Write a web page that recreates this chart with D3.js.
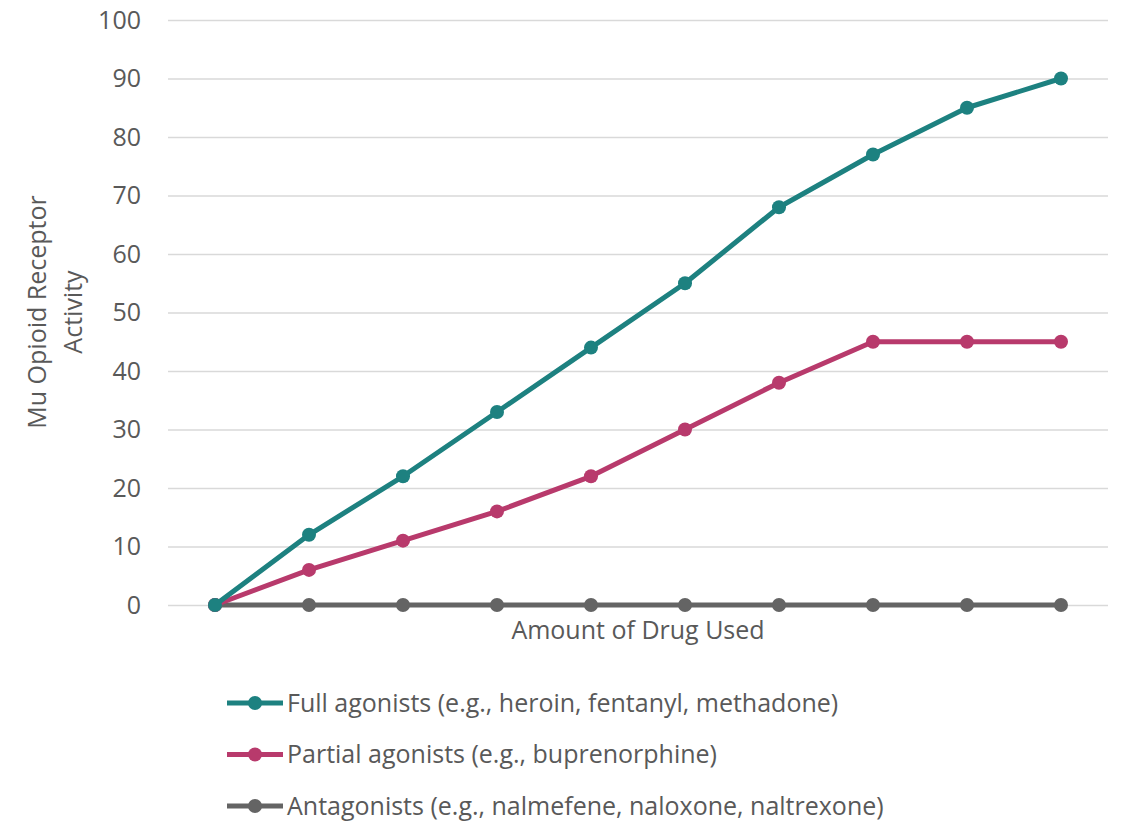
<!DOCTYPE html>
<html>
<head>
<meta charset="utf-8">
<script src="https://cdn.jsdelivr.net/npm/d3@7"></script>
<style>
  body { margin: 0; background: #fff; }
  text { font-family: "Open Sans", "Noto Sans", sans-serif; fill: #595959; }
</style>
</head>
<body>
<div id="chart"></div>
<script>
// data
const categories = [1, 2, 3, 4, 5, 6, 7, 8, 9, 10];
const fullAgonists = [0, 12, 22, 33, 44, 55, 68, 77, 85, 90];
const partialAgonists = [0, 6, 11, 16, 22, 30, 38, 45, 45, 45];
const antagonists = [0, 0, 0, 0, 0, 0, 0, 0, 0, 0];
const seriesNames = [
  "Full agonists (e.g., heroin, fentanyl, methadone)",
  "Partial agonists (e.g., buprenorphine)",
  "Antagonists (e.g., nalmefene, naloxone, naltrexone)"
];
const yTicks = [0, 10, 20, 30, 40, 50, 60, 70, 80, 90, 100];

const series = [
  { name: seriesNames[0], values: fullAgonists, color: "#1d8180" },
  { name: seriesNames[1], values: partialAgonists, color: "#b83a6c" },
  { name: seriesNames[2], values: antagonists, color: "#646464" }
];

const fontSize = "25px";
const W = 1123, H = 822;
const margin = { LEFT: 168, RIGHT: 15, TOP: 20, BOTTOM: 217 };
const w = W - margin.LEFT - margin.RIGHT;
const h = H - margin.TOP - margin.BOTTOM;

const svg = d3.select("#chart").append("svg")
  .attr("width", W).attr("height", H);

const g = svg.append("g")
  .attr("transform", `translate(${margin.LEFT}, ${margin.TOP})`);

const xScale = d3.scalePoint().domain(categories).range([0, w]).padding(0.5);
const yScale = d3.scaleLinear().domain([0, 100]).range([h, 0]);

// gridlines + y labels
const yAxis = d3.axisLeft(yScale).tickValues(yTicks).tickSize(-w).tickPadding(27);
g.append("g").attr("class", "yAxis").call(yAxis)
  .call(s => s.select(".domain").remove())
  .call(s => s.selectAll("line").attr("stroke", "#d9d9d9").attr("stroke-width", 1.3))
  .call(s => s.selectAll("text")
    .style("font-size", fontSize)
    .attr("fill", "#595959"));

// lines
const line = d3.line()
  .x((d, i) => xScale(categories[i]))
  .y(d => yScale(d));

// draw grey first so coloured lines sit on top, as in the picture
[...series].reverse().forEach(s => {
  g.append("path")
    .attr("d", line(s.values))
    .attr("fill", "none")
    .attr("stroke", s.color)
    .attr("stroke-width", 5)
    .attr("stroke-linejoin", "round");
  g.selectAll(null).data(s.values).enter()
    .append("circle")
    .attr("cx", (d, i) => xScale(categories[i]))
    .attr("cy", d => yScale(d))
    .attr("r", 7)
    .attr("fill", s.color);
});

// axis titles
svg.append("text")
  .attr("x", margin.LEFT + w / 2)
  .attr("y", 639)
  .attr("text-anchor", "middle")
  .style("font-size", fontSize)
  .text("Amount of Drug Used");

const yTitle = svg.append("text")
  .attr("transform", "translate(46, 312) rotate(-90)")
  .attr("text-anchor", "middle")
  .style("font-size", fontSize);
yTitle.append("tspan").attr("x", 0).attr("dy", 0).text("Mu Opioid Receptor");
yTitle.append("tspan").attr("x", 0).attr("dy", 36).text("Activity");

// legend
const legend = svg.append("g").attr("transform", "translate(227, 703)");
series.forEach((s, i) => {
  const row = legend.append("g").attr("transform", `translate(0, ${i * 51.5})`);
  row.append("line")
    .attr("x1", 0).attr("x2", 56)
    .attr("stroke", s.color).attr("stroke-width", 5);
  row.append("circle").attr("cx", 28).attr("r", 7).attr("fill", s.color);
  row.append("text")
    .attr("x", 60)
    .attr("dy", "0.35em")
    .style("font-size", fontSize)
    .text(s.name);
});
</script>
</body>
</html>
